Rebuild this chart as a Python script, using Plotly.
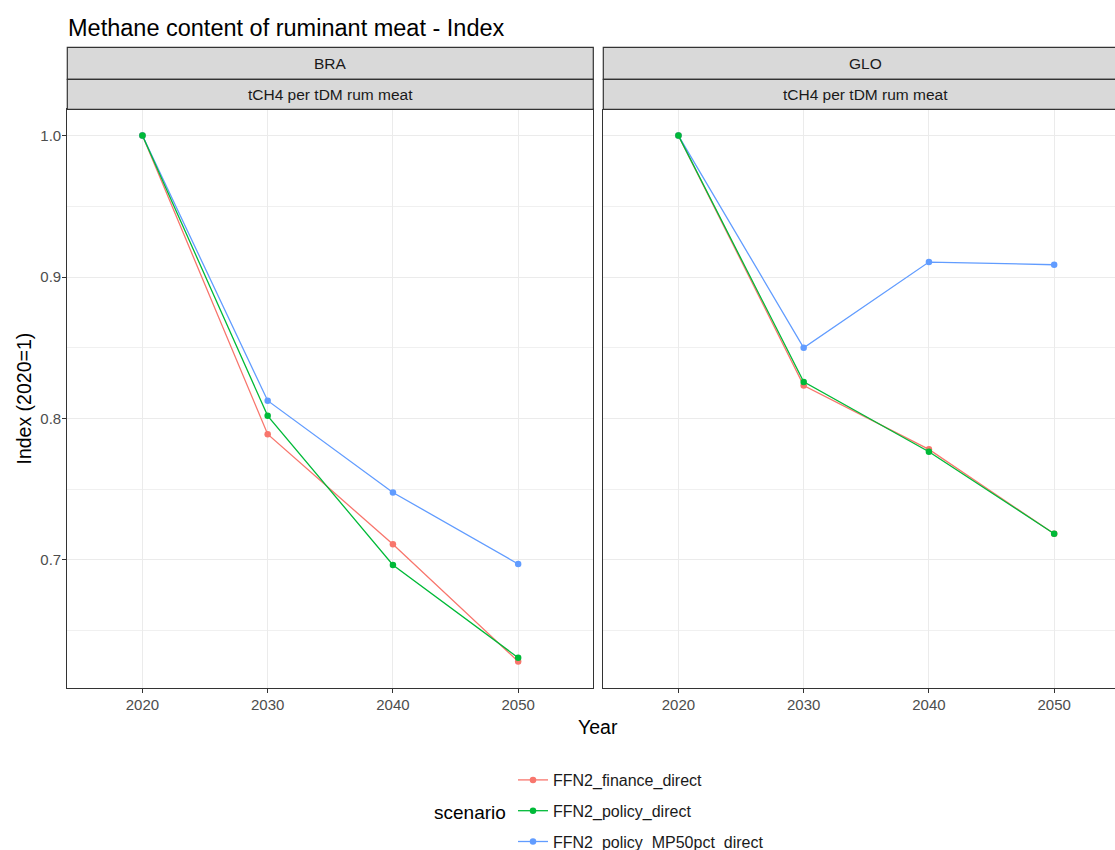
import plotly.graph_objects as go

# Data: methane index (2020 = 1) by region and scenario
years = [2020, 2030, 2040, 2050]
regions = ["BRA", "GLO"]
indicator = "tCH4 per tDM rum meat"
scenarios = ["FFN2_finance_direct", "FFN2_policy_direct", "FFN2_policy_MP50pct_direct"]

bra_finance = [1.0, 0.7889, 0.7111, 0.6283]
bra_policy = [1.0, 0.8019, 0.6965, 0.6309]
bra_mp50 = [1.0, 0.8126, 0.7477, 0.6972]

glo_finance = [1.0, 0.8233, 0.7782, 0.7185]
glo_policy = [1.0, 0.8259, 0.7765, 0.7186]
glo_mp50 = [1.0, 0.8500, 0.9106, 0.9087]

y_ticks = [0.7, 0.8, 0.9, 1.0]
y_tick_labels = ["0.7", "0.8", "0.9", "1.0"]
x_ticks = [2020, 2030, 2040, 2050]
x_tick_labels = ["2020", "2030", "2040", "2050"]

colors = {
    "FFN2_finance_direct": "#F8766D",
    "FFN2_policy_direct": "#00BA38",
    "FFN2_policy_MP50pct_direct": "#619CFF",
}
series = {
    "BRA": {
        "FFN2_finance_direct": bra_finance,
        "FFN2_policy_direct": bra_policy,
        "FFN2_policy_MP50pct_direct": bra_mp50,
    },
    "GLO": {
        "FFN2_finance_direct": glo_finance,
        "FFN2_policy_direct": glo_policy,
        "FFN2_policy_MP50pct_direct": glo_mp50,
    },
}

W, H = 1115, 850
FONT = "Liberation Sans, Arial, sans-serif"


def px_x(p):
    return p / W


def px_y(p):
    return 1 - p / H


# panel geometry (pixels)
left_panel = (67.3, 593.3)
right_panel = (603.3, 1128.3)
panel_top, panel_bottom = 109.3, 687.7
strip_top, strip_mid = 47.3, 79.3
x_lo, x_hi = 2014, 2056
px_per_year = (left_panel[1] - left_panel[0]) / (x_hi - x_lo)

all_vals = [v for r in series.values() for s in r.values() for v in s]
vmin, vmax = min(all_vals), max(all_vals)
pad = (vmax - vmin) * 0.05
y_range = [vmin - pad, vmax + pad]

fig = go.Figure()

# draw order puts the green series on top
draw_order = ["FFN2_finance_direct", "FFN2_policy_MP50pct_direct", "FFN2_policy_direct"]
for i, region in enumerate(regions):
    xa = "x" if i == 0 else "x2"
    ya = "y" if i == 0 else "y2"
    for sc in draw_order:
        fig.add_trace(go.Scatter(
            x=years, y=series[region][sc], mode="lines+markers",
            name=sc, legendgroup=sc, showlegend=(i == 0),
            legendrank=scenarios.index(sc) + 1,
            line=dict(color=colors[sc], width=1.3),
            marker=dict(color=colors[sc], size=6.5),
            xaxis=xa, yaxis=ya,
        ))

axis_common = dict(
    showgrid=True, gridcolor="#EBEBEB", gridwidth=1.1, zeroline=False,
    linecolor="#333333", linewidth=1.2,
    tickfont=dict(family=FONT, size=15, color="#4D4D4D"),
)
minor_y = dict(tickvals=[0.65, 0.75, 0.85, 0.95], showgrid=True,
               gridcolor="#F0F0F0", gridwidth=0.8, ticks="")

fig.update_layout(
    width=W, height=H,
    margin=dict(l=0, r=0, t=0, b=0, autoexpand=False),
    paper_bgcolor="white", plot_bgcolor="white",
    font=dict(family=FONT, color="#1A1A1A"),
    xaxis=dict(
        domain=[px_x(left_panel[0]), px_x(left_panel[1])],
        range=[x_lo, x_hi], tickvals=x_ticks, ticktext=x_tick_labels,
        showline=True, mirror=True, ticks="outside", ticklen=4,
        tickcolor="#333333", ticklabelstandoff=-1, anchor="y", **axis_common,
    ),
    yaxis=dict(
        domain=[px_y(panel_bottom), px_y(panel_top)],
        range=y_range, tickvals=y_ticks, ticktext=y_tick_labels,
        showline=True, mirror=True, ticks="outside", ticklen=4,
        tickcolor="#333333", ticklabelstandoff=-2, minor=minor_y, anchor="x",
        **axis_common,
    ),
    xaxis2=dict(
        domain=[px_x(right_panel[0]), 1.0],
        range=[x_lo, x_lo + (W - right_panel[0]) / px_per_year],
        tickvals=x_ticks, ticktext=x_tick_labels,
        showline=True, ticks="outside", ticklen=4,
        tickcolor="#333333", ticklabelstandoff=-1, anchor="y2", **axis_common,
    ),
    yaxis2=dict(
        domain=[px_y(panel_bottom), px_y(panel_top)],
        range=y_range, tickvals=y_ticks, showticklabels=False,
        showline=True, ticks="", minor=minor_y, anchor="x2", **axis_common,
    ),
    legend=dict(
        x=px_x(513), xanchor="left", y=px_y(763), yanchor="top",
        font=dict(family=FONT, size=16, color="#1A1A1A"),
        tracegroupgap=7, traceorder="grouped",
        bgcolor="rgba(0,0,0,0)",
    ),
)

# facet strips
shapes = []
annotations = []
for i, region in enumerate(regions):
    x0, x1 = left_panel if i == 0 else right_panel
    for (t, b, label) in [(strip_top, strip_mid, region), (strip_mid, panel_top, indicator)]:
        shapes.append(dict(
            type="rect", xref="paper", yref="paper",
            x0=px_x(x0), x1=px_x(x1), y0=px_y(b), y1=px_y(t),
            fillcolor="#D9D9D9", line=dict(color="#333333", width=1.2),
            layer="above",
        ))
        annotations.append(dict(
            text=label, xref="paper", yref="paper",
            x=px_x((x0 + x1) / 2),
            y=px_y((t + b) / 2), xanchor="center", yanchor="middle",
            showarrow=False, font=dict(family=FONT, size=15.5, color="#1A1A1A"),
        ))

annotations += [
    dict(text="Methane content of ruminant meat - Index", xref="paper", yref="paper",
         x=px_x(66), y=px_y(28), xanchor="left", yanchor="middle", showarrow=False,
         font=dict(family=FONT, size=23.5, color="#000000")),
    dict(text="Index (2020=1)", xref="paper", yref="paper", textangle=-90,
         x=px_x(24), y=px_y((panel_top + panel_bottom) / 2), xanchor="center",
         yanchor="middle", showarrow=False,
         font=dict(family=FONT, size=19.5, color="#000000")),
    dict(text="Year", xref="paper", yref="paper",
         x=px_x((left_panel[0] + right_panel[1]) / 2), y=px_y(727),
         xanchor="center", yanchor="middle", showarrow=False,
         font=dict(family=FONT, size=19.5, color="#000000")),
    dict(text="scenario", xref="paper", yref="paper",
         x=px_x(432), y=px_y(812), xanchor="left", yanchor="middle", showarrow=False,
         font=dict(family=FONT, size=19, color="#000000")),
]

fig.update_layout(shapes=shapes, annotations=annotations)
fig.write_html("out.html")
